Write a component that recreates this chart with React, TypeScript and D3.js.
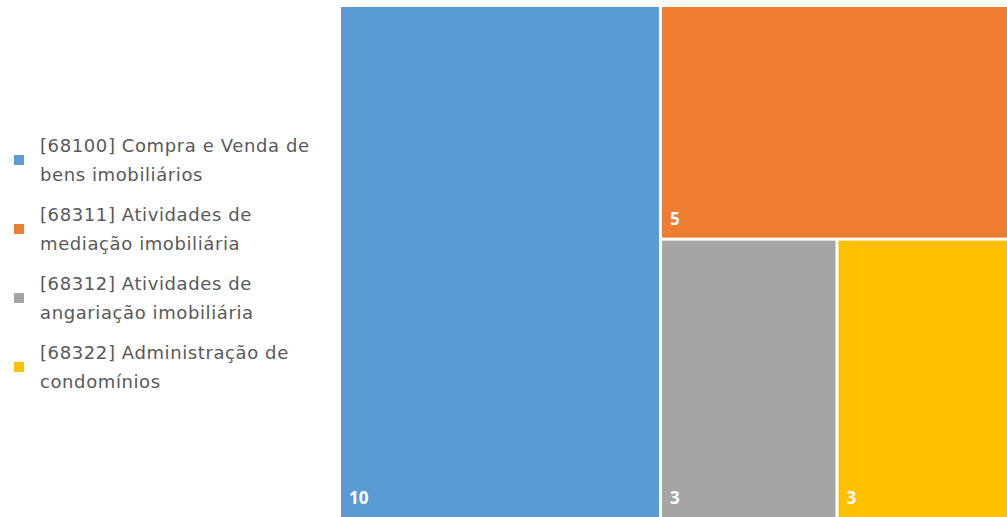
import React, { useEffect, useRef } from 'react';
import * as d3 from 'd3';

const categories = [
    '[68100] Compra e Venda de bens imobiliários',
    '[68311] Atividades de mediação imobiliária',
    '[68312] Atividades de angariação imobiliária',
    '[68322] Administração de condomínios',
];
const legendLines = [
    ['[68100] Compra e Venda de', 'bens imobiliários'],
    ['[68311] Atividades de', 'mediação imobiliária'],
    ['[68312] Atividades de', 'angariação imobiliária'],
    ['[68322] Administração de', 'condomínios'],
];
const values = [10, 5, 3, 3];
const colors = ['#5b9bd5', '#ed7d31', '#a5a5a5', '#ffc000'];

interface Leaf { name: string; value: number; color: string }

const App: React.FC = () => {
    const svgRef = useRef<SVGSVGElement>(null);

    useEffect(() => {
        d3.select(svgRef.current).selectAll('*').remove();

        const width = 1007;
        const height = 517;
        const labelFont = '"Open Sans", "DejaVu Sans", sans-serif';
        const legendFont = '"DejaVu Sans", sans-serif';

        const svg = d3.select(svgRef.current)
            .attr('width', width)
            .attr('height', height)
            .style('display', 'block')
            .style('overflow', 'hidden');

        // treemap area (runs a bit past the right and bottom edges, as in the picture)
        const area = { x: 341, y: 7, w: 671, h: 511 };

        const leaves: Leaf[] = categories.map((c, i) => ({ name: c, value: values[i], color: colors[i] }));
        const root = d3.hierarchy<any>({ children: leaves })
            .sum((d: any) => d.value || 0)
            .sort((a, b) => (b.value || 0) - (a.value || 0));

        d3.treemap<any>()
            .tile(d3.treemapBinary)
            .size([area.w, area.h])
            .paddingInner(3)
            .round(false)(root);

        const g = svg.append('g')
            .attr('transform', `translate(${area.x},${area.y})`);

        const cell = g.selectAll('g.cell')
            .data(root.leaves() as d3.HierarchyRectangularNode<any>[])
            .join('g')
            .attr('class', 'cell');

        cell.append('rect')
            .attr('x', d => d.x0)
            .attr('y', d => d.y0)
            .attr('width', d => d.x1 - d.x0)
            .attr('height', d => d.y1 - d.y0)
            .attr('fill', d => d.data.color);

        cell.append('text')
            .attr('x', d => d.x0 + 8)
            .attr('y', d => Math.min(d.y1, height - area.y) - 13)
            .attr('fill', '#ffffff')
            .style('font-family', labelFont)
            .style('font-weight', 700)
            .style('font-size', '17px')
            .text(d => d.data.value);

        // legend
        const legend = svg.append('g');
        legendLines.forEach((lines, i) => {
            const top = 146 + i * 69;
            legend.append('rect')
                .attr('x', 14)
                .attr('y', top + 9)
                .attr('width', 10)
                .attr('height', 10)
                .attr('fill', colors[i]);
            lines.forEach((line, j) => {
                legend.append('text')
                    .attr('x', 40)
                    .attr('y', top + j * 29)
                    .attr('dy', '0.35em')
                    .attr('fill', '#595959')
                    .style('font-family', legendFont)
                    .style('font-size', '18px')
                    .style('letter-spacing', '0.6px')
                    .text(line);
            });
        });
    }, []);

    return <svg ref={svgRef} style={{ position: 'absolute', left: 0, top: 0 }}></svg>;
};

export default App;
